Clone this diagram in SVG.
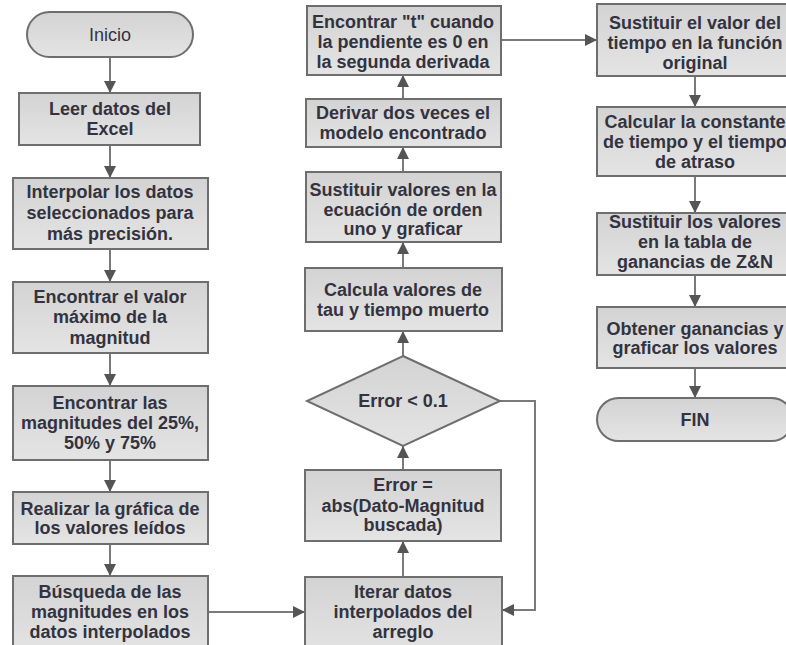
<svg xmlns="http://www.w3.org/2000/svg" width="786" height="645" viewBox="0 0 786 645">
  <style>
    .box { fill: url(#boxFill); stroke: #6e6e6e; stroke-width: 2; }
    .lbl { font-family: "Liberation Sans", Arial, sans-serif; font-size: 18px; font-weight: bold; fill: #333340; text-anchor: middle; dominant-baseline: central; }
    .reg { font-weight: normal; }
    .conn { fill: none; stroke: #7a7a7a; stroke-width: 2; marker-end: url(#arrow); }
  </style>
  <defs>
    <linearGradient id="boxFill" x1="0" y1="0" x2="0" y2="1">
      <stop offset="0" stop-color="#d3d3d3"/>
      <stop offset="1" stop-color="#e4e4e4"/>
    </linearGradient>
    <marker id="arrow" markerUnits="userSpaceOnUse" markerWidth="14" markerHeight="14" viewBox="0 0 14 14" refX="12" refY="7" orient="auto">
      <path d="M0,1 L12,7 L0,13 Z" fill="#555555"/>
    </marker>
  </defs>

  <rect width="786" height="645" fill="#ffffff"/>

  <!-- connectors -->
  <g id="connectors">
    <line class="conn" x1="110" y1="57" x2="110" y2="93"/>
    <line class="conn" x1="110" y1="145" x2="110" y2="178"/>
    <line class="conn" x1="110" y1="249" x2="110" y2="282"/>
    <line class="conn" x1="110" y1="353" x2="110" y2="386"/>
    <line class="conn" x1="110" y1="460" x2="110" y2="492"/>
    <line class="conn" x1="110" y1="544" x2="110" y2="576"/>
    <line class="conn" x1="208" y1="612" x2="305" y2="612"/>
    <line class="conn" x1="403" y1="577" x2="403" y2="541"/>
    <line class="conn" x1="403" y1="470" x2="403" y2="446"/>
    <line class="conn" x1="403" y1="356" x2="403" y2="331"/>
    <line class="conn" x1="403" y1="268" x2="403" y2="242"/>
    <line class="conn" x1="403" y1="172" x2="403" y2="147"/>
    <line class="conn" x1="403" y1="99" x2="403" y2="75"/>
    <line class="conn" x1="501" y1="40" x2="597" y2="40"/>
    <polyline class="conn" points="500,401 535,401 535,610 502,610"/>
    <line class="conn" x1="695" y1="76" x2="695" y2="107"/>
    <line class="conn" x1="695" y1="176" x2="695" y2="213"/>
    <line class="conn" x1="695" y1="275" x2="695" y2="307"/>
    <line class="conn" x1="695" y1="368" x2="695" y2="398"/>
  </g>

  <!-- left column -->
  <g id="inicio">
    <rect class="box" x="27" y="12" width="166" height="45" rx="22.5"/>
    <text class="lbl reg" x="110" y="35">Inicio</text>
  </g>
  <g id="leer">
    <rect class="box" x="19" y="93" width="181" height="52"/>
    <text class="lbl" x="110" y="109">Leer datos del</text>
    <text class="lbl" x="110" y="129">Excel</text>
  </g>
  <g id="interpolar">
    <rect class="box" x="13" y="178" width="195" height="71"/>
    <text class="lbl" x="110" y="192">Interpolar los datos</text>
    <text class="lbl" x="110" y="213">seleccionados para</text>
    <text class="lbl" x="110" y="234">más precisión.</text>
  </g>
  <g id="maximo">
    <rect class="box" x="13" y="282" width="195" height="71"/>
    <text class="lbl" x="110" y="297">Encontrar el valor</text>
    <text class="lbl" x="110" y="317">máximo de la</text>
    <text class="lbl" x="110" y="338">magnitud</text>
  </g>
  <g id="porcentajes">
    <rect class="box" x="13" y="386" width="195" height="74"/>
    <text class="lbl" x="110" y="403">Encontrar las</text>
    <text class="lbl" x="110" y="423">magnitudes del 25%,</text>
    <text class="lbl" x="110" y="443">50% y 75%</text>
  </g>
  <g id="grafica">
    <rect class="box" x="13" y="492" width="195" height="52"/>
    <text class="lbl" x="110" y="509">Realizar la gráfica de</text>
    <text class="lbl" x="110" y="528">los valores leídos</text>
  </g>
  <g id="busqueda">
    <rect class="box" x="13" y="576" width="195" height="80"/>
    <text class="lbl" x="110" y="592">Búsqueda de las</text>
    <text class="lbl" x="110" y="612">magnitudes en los</text>
    <text class="lbl" x="110" y="632">datos interpolados</text>
  </g>

  <!-- middle column -->
  <g id="iterar">
    <rect class="box" x="305" y="577" width="197" height="80"/>
    <text class="lbl" x="403" y="592">Iterar datos</text>
    <text class="lbl" x="403" y="612">interpolados del</text>
    <text class="lbl" x="403" y="632">arreglo</text>
  </g>
  <g id="error">
    <rect class="box" x="305" y="470" width="196" height="71"/>
    <text class="lbl" x="403" y="485">Error =</text>
    <text class="lbl" x="403" y="506">abs(Dato-Magnitud</text>
    <text class="lbl" x="403" y="525">buscada)</text>
  </g>
  <g id="decision">
    <polygon class="box" points="403,356 500,401 403,446 307,401"/>
    <text class="lbl" x="403" y="401">Error &lt; 0.1</text>
  </g>
  <g id="calcula">
    <rect class="box" x="305" y="268" width="197" height="63"/>
    <text class="lbl" x="403" y="290">Calcula valores de</text>
    <text class="lbl" x="403" y="310">tau y tiempo muerto</text>
  </g>
  <g id="sustituir-orden">
    <rect class="box" x="306" y="172" width="195" height="70"/>
    <text class="lbl" x="403" y="190">Sustituir valores en la</text>
    <text class="lbl" x="403" y="210">ecuación de orden</text>
    <text class="lbl" x="403" y="229">uno y graficar</text>
  </g>
  <g id="derivar">
    <rect class="box" x="306" y="99" width="195" height="48"/>
    <text class="lbl" x="403" y="113">Derivar dos veces el</text>
    <text class="lbl" x="403" y="133">modelo encontrado</text>
  </g>
  <g id="encontrar-t">
    <rect class="box" x="307" y="6" width="194" height="69"/>
    <text class="lbl" x="403" y="22">Encontrar "t" cuando</text>
    <text class="lbl" x="403" y="42">la pendiente es 0 en</text>
    <text class="lbl" x="403" y="62">la segunda derivada</text>
  </g>

  <!-- right column -->
  <g id="sustituir-tiempo">
    <rect class="box" x="597" y="4" width="196" height="72"/>
    <text class="lbl" x="695" y="23">Sustituir el valor del</text>
    <text class="lbl" x="695" y="43">tiempo en la función</text>
    <text class="lbl" x="695" y="63">original</text>
  </g>
  <g id="constante">
    <rect class="box" x="597" y="107" width="196" height="69"/>
    <text class="lbl" x="695" y="122">Calcular la constante</text>
    <text class="lbl" x="695" y="142">de tiempo y el tiempo</text>
    <text class="lbl" x="695" y="162">de atraso</text>
  </g>
  <g id="tabla">
    <rect class="box" x="597" y="213" width="196" height="62"/>
    <text class="lbl" x="695" y="222">Sustituir los valores</text>
    <text class="lbl" x="695" y="242">en la tabla de</text>
    <text class="lbl" x="695" y="262">ganancias de Z&amp;N</text>
  </g>
  <g id="ganancias">
    <rect class="box" x="597" y="307" width="196" height="61"/>
    <text class="lbl" x="695" y="329">Obtener ganancias y</text>
    <text class="lbl" x="695" y="348">graficar los valores</text>
  </g>
  <g id="fin">
    <rect class="box" x="597" y="398" width="196" height="43" rx="21.5"/>
    <text class="lbl" x="695" y="420">FIN</text>
  </g>
</svg>
